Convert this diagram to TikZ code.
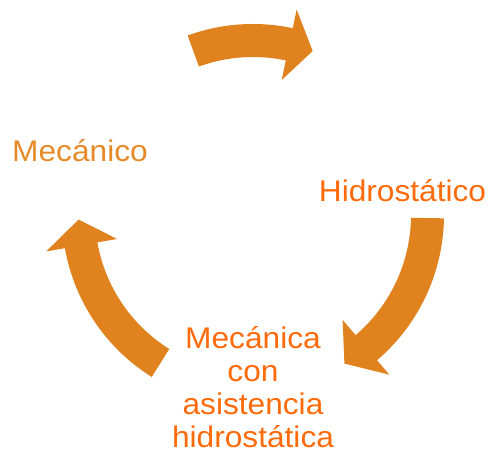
\documentclass[tikz,border=0pt]{standalone}
\usepackage{fontspec}
\setmainfont[FakeStretch=1.06]{Liberation Sans}
\usepackage{xcolor}
\usetikzlibrary{positioning, calc}
\definecolor{arrorange}{HTML}{E0821E}
\definecolor{txtorange}{HTML}{E58A27}
\definecolor{txtbright}{HTML}{FF6A0A}

\begin{document}
\begin{tikzpicture}[
  every node/.style={font=\fontsize{17}{18.8}\selectfont, inner sep=0pt},
  lbl/.style={text=txtorange, anchor=base},
  lblb/.style={text=txtbright, anchor=base, align=center},
  arr/.style={fill=arrorange, draw=none}
]
\useasboundingbox (0,0) rectangle (9.78,9.04);
\def\Ri{3.16}\def\Ro{3.82}\def\Hi{2.76}\def\Ho{4.2}\def\Rm{3.49}
\coordinate (C) at (5.06,4.74);
% the three cycle arrows (tail, head base, tip angles)
\begin{scope}[shift={(C)}]
\foreach \t/\b/\p in {110/78/70, -1/-49.5/-58.4, 238/190/181.5}{
  \fill[arr] (\t:\Ro) arc[start angle=\t, end angle=\b, radius=\Ro]
    -- (\b:\Ho) -- (\p:\Rm) -- (\b:\Hi) -- (\b:\Ri)
    arc[start angle=\b, end angle=\t, radius=\Ri] -- cycle;
}
\end{scope}
% labels
\node[lbl] (mec) at (1.60,5.80) {Mecánico};
\node[lblb] (hid) at (8.05,5.00) {Hidrostático};
\node[lblb] (mix) at (5.06,0.08) {Mecánica\\ con\\ asistencia\\ hidrostática};
\end{tikzpicture}
\end{document}
